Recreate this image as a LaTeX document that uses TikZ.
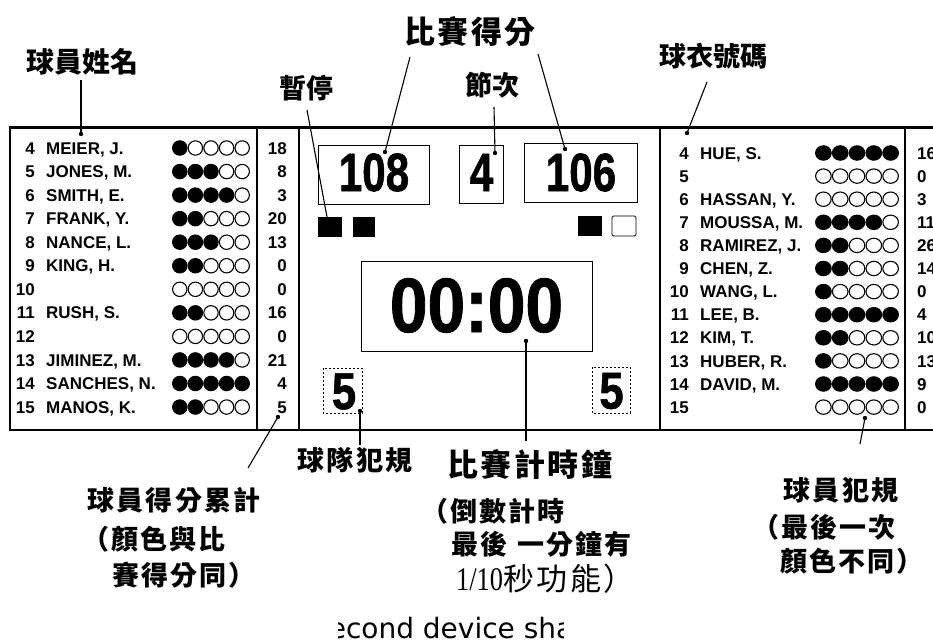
\documentclass[tikz,border=0pt]{standalone}
\usepackage{fontspec}
\usepackage{graphicx}
\setmainfont{Liberation Sans}
\newfontfamily\digfont{Liberation Sans}[BoldFeatures={FakeBold=1.2}]
\newfontfamily\cjk{Noto Sans CJK TC}
\newfontfamily\cjksp{Noto Sans CJK TC}[LetterSpace=8]
\newfontfamily\dvs{DejaVu Sans}
\newfontfamily\lserif{Liberation Serif}
\usetikzlibrary{arrows.meta}
\newcommand\bigdig[3]{\scalebox{#2}[1]{\digfont\fontsize{#1}{#1}\selectfont\bfseries #3}}
\begin{document}
\begin{tikzpicture}[x=1pt,y=-1pt,
  rowtxt/.style={font=\fontsize{17}{17}\selectfont\bfseries, inner sep=0pt},
  frameline/.style={line width=2.2pt},
  thinbox/.style={line width=0.9pt},
  dashbox/.style={line width=0.8pt, dash pattern=on 2pt off 2pt},
  leader/.style={line width=1.1pt},
  toplbl/.style={font={\cjk\bfseries\fontsize{28}{28}\selectfont}, inner sep=0pt},
  biglbl/.style={font={\cjksp\bfseries\fontsize{31}{31}\selectfont}, inner sep=0pt},
  botlbl/.style={font={\cjksp\bfseries\fontsize{27}{27}\selectfont}, inner sep=0pt},
  notelbl/.style={font={\cjksp\fontsize{31}{31}\selectfont}, inner sep=0pt},
  digit/.style={inner sep=0pt}
]
\useasboundingbox (0,0) rectangle (933,644);
\fill[white] (0,0) rectangle (933,644);

% ---------- frame ----------
\draw[line width=3pt] (8.5,128) -- (945,128);
\draw[frameline] (10,128) -- (10,430) -- (945,430);
\draw[line width=1.8pt] (257,128) -- (257,430);
\draw[frameline] (299,128) -- (299,430);
\draw[frameline] (660,128) -- (660,430);
\draw[line width=1.8pt] (905,128) -- (905,430);

% ---------- left team ----------
\foreach \n/\nm/\f/\s [count=\i from 0] in {
  4/{MEIER, J.}/1/18, 5/{JONES, M.}/3/8, 6/{SMITH, E.}/4/3, 7/{FRANK, Y.}/2/20,
  8/{NANCE, L.}/3/13, 9/{KING, H.}/2/0, 10/{}/0/0, 11/{RUSH, S.}/2/16,
  12/{}/0/0, 13/{JIMINEZ, M.}/4/21, 14/{SANCHES, N.}/5/4, 15/{MANOS, K.}/2/5}{
  \pgfmathsetmacro\yy{148+23.55*\i}
  \node[rowtxt, anchor=base east] (Lnum\i) at (35,\yy+6.1) {\n};
  \node[rowtxt, anchor=base west] (Lname\i) at (46,\yy+6.1) {\nm};
  \node[rowtxt, anchor=base east] (Lpts\i) at (287,\yy+6.1) {\s};
  \foreach \k in {0,...,4}{
    \ifnum\k<\f\relax\def\fc{black}\else\def\fc{white}\fi
    \filldraw[fill=\fc, line width=1.1pt] (179.8+15.6*\k,\yy) ellipse [x radius=7.2pt, y radius=7.2pt];
  }
}

% ---------- right team ----------
\foreach \n/\nm/\f/\s [count=\i from 0] in {
  4/{HUE, S.}/5/16, 5/{}/0/0, 6/{HASSAN, Y.}/0/3, 7/{MOUSSA, M.}/4/11,
  8/{RAMIREZ, J.}/2/26, 9/{CHEN, Z.}/2/14, 10/{WANG, L.}/1/0, 11/{LEE, B.}/5/4,
  12/{KIM, T.}/2/10, 13/{HUBER, R.}/1/13, 14/{DAVID, M.}/5/9, 15/{}/0/0}{
  \pgfmathsetmacro\yy{153+23.1*\i}
  \node[rowtxt, anchor=base east] (Rnum\i) at (689,\yy+6.1) {\n};
  \node[rowtxt, anchor=base west] (Rname\i) at (700,\yy+6.1) {\nm};
  \node[rowtxt, anchor=base west] (Rpts\i) at (917,\yy+6.1) {\s};
  \foreach \k in {0,...,4}{
    \ifnum\k<\f\relax\def\fc{black}\else\def\fc{white}\fi
    \filldraw[fill=\fc, line width=1.1pt] (823.4+16.8*\k,\yy) ellipse [x radius=7.8pt, y radius=7.2pt];
  }
}

% ---------- centre panel ----------
\draw[thinbox] (318,145) rectangle (429,204);
\node[digit] (homescore) at (374,172.5) {\bigdig{54}{0.78}{108}};
\draw[thinbox] (459,145) rectangle (503,203);
\node[digit] (period) at (481.5,172.5) {\bigdig{54}{0.78}{4}};
\draw[thinbox] (524,143) rectangle (637,202);
\node[digit] (guestscore) at (581,172.5) {\bigdig{54}{0.78}{106}};

\fill (318,217) rectangle (342,237);
\fill (353,217) rectangle (375,237);
\fill (578,216) rectangle (602,236);
\draw[thinbox, rounded corners=1.5pt] (612,216) rectangle (636,236);

\draw[thinbox] (361,261) rectangle (592,351);
\node[digit] (clock) at (476.5,305.5) {\bigdig{77}{0.88}{00:00}};

\draw[dashbox] (323,368) rectangle (362,413);
\node[digit] (lfoul) at (344,391.5) {\bigdig{52}{0.84}{5}};
\draw[dashbox] (592,367) rectangle (630,413);
\node[digit] (rfoul) at (611.5,391) {\bigdig{52}{0.84}{5}};

% ---------- top labels ----------
\node[toplbl] (lname) at (82,62) {球員姓名};
\node[toplbl, font={\cjk\bfseries\fontsize{27}{27}\selectfont}] (ltimeout) at (306,88) {暫停};
\node[biglbl] (lscore) at (470,32) {比賽得分};
\node[toplbl, font={\cjk\bfseries\fontsize{27}{27}\selectfont}] (lperiod) at (492,85) {節次};
\node[toplbl, font={\cjk\bfseries\fontsize{27}{27}\selectfont}] (ljersey) at (713,56) {球衣號碼};

\coordinate (a1) at (81,80);   \coordinate (b1) at (81,134);
\coordinate (a2) at (307,110); \coordinate (b2) at (327,217);
\coordinate (a3) at (410,57);  \coordinate (b3) at (385,152);
\coordinate (a4) at (538,54);  \coordinate (b4) at (565,149);
\coordinate (a5) at (494,107); \coordinate (b5) at (495,153);
\coordinate (a6) at (707,82);  \coordinate (b6) at (687,133);
\draw[leader] (a1) -- (b1);
\draw[leader] (a2) -- (b2);
\draw[leader] (a3) -- (b3);
\draw[leader] (a4) -- (b4);
\draw[leader] (a5) -- (b5);
\draw[leader] (a6) -- (b6);
\foreach \c in {b1,b3,b4,b5,b6}{\fill (\c) circle [radius=2.2pt];}

% ---------- bottom labels ----------
\coordinate (c1) at (278,417); \coordinate (d1) at (248,468);
\coordinate (c2) at (360,411); \coordinate (d2) at (360,445);
\coordinate (c3) at (526,341); \coordinate (d3) at (526,441);
\coordinate (c4) at (865,418); \coordinate (d4) at (860,444);
\draw[leader] (c1) -- (d1);
\draw[leader] (c2) -- (d2);
\draw[leader] (c3) -- (d3);
\draw[leader] (c4) -- (d4);
\foreach \c in {c1,c2,c3,c4}{\fill (\c) circle [radius=2.2pt];}

\node[botlbl] (ptsA) at (174,500) {球員得分累計};
\node[botlbl, anchor=west] (ptsB) at (82,539) {（顏色與比};
\node[botlbl, anchor=west] (ptsC) at (112,575) {賽得分同）};

\node[botlbl] (tfoul) at (355,460) {球隊犯規};

\node[biglbl] (clk) at (530,464) {比賽計時鐘};
\node[botlbl, anchor=west] (clkB) at (421,511) {（倒數計時};
\node[botlbl, anchor=west] (clkC) at (451,544) {最後\hspace{10pt}一分鐘有};
\node[notelbl, anchor=west] (clkD) at (456,579) {{\lserif\scalebox{0.8}[1]{\fontsize{33}{33}\selectfont 1/10}}秒功能）};

\node[botlbl] (pfoul) at (841,490) {球員犯規};
\node[botlbl, anchor=west] (pfoulB) at (752,527) {（最後一次};
\node[botlbl, anchor=west] (pfoulC) at (780,561) {顏色不同）};

% ---------- clipped caption ----------
\begin{scope}
\clip (338,600) rectangle (563,644);
\node[font={\dvs\fontsize{28}{28}\selectfont}, anchor=base west, inner sep=0pt] (caption) at (314,638) {second device sha};
\end{scope}
\end{tikzpicture}
\end{document}
